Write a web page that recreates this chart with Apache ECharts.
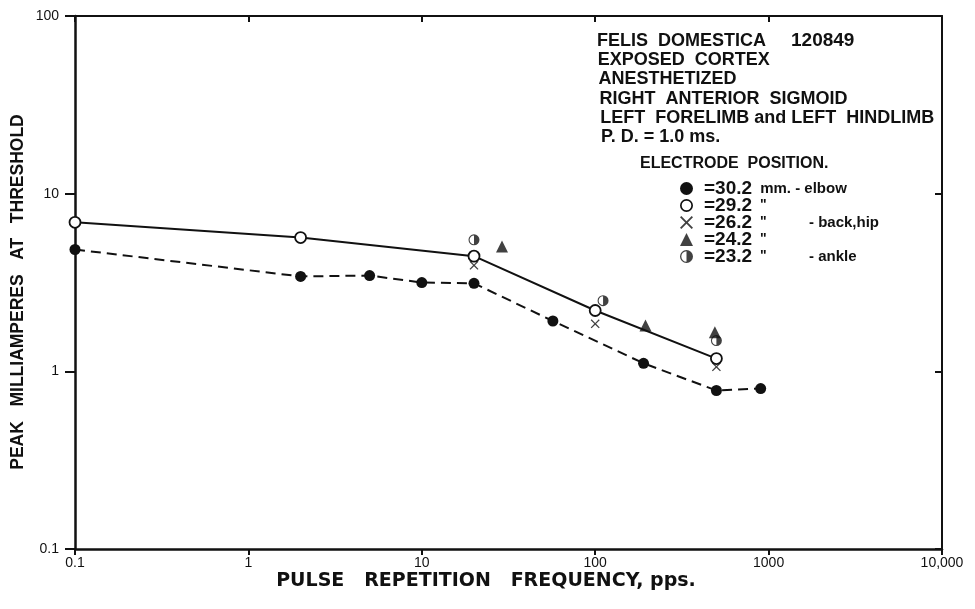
<!DOCTYPE html>
<html><head><meta charset="utf-8">
<script src="https://cdn.jsdelivr.net/npm/echarts/dist/echarts.min.js"></script>
<style>html,body{margin:0;padding:0;background:#fff}#c{width:975px;height:609px}</style>
</head><body><div id="c"></div>
<script>
// Tick labels
const xTickLabels = ['0.1', '1', '10', '100', '1000', '10,000'];
const yTickLabels = ['0.1', '1', '10', '100'];
// Electrode positions: [pulse repetition frequency (pps), peak mA at threshold]
const e302 = [[0.1, 4.85], [2, 3.42], [5, 3.46], [10, 3.16], [20, 3.13], [57, 1.92], [190, 1.11], [500, 0.78], [900, 0.80]];
const e292 = [[0.1, 6.9], [2, 5.66], [20, 4.45], [100, 2.2], [500, 1.18]];
const e262 = [[20, 3.95], [100, 1.85], [500, 1.06]];
const e242 = [[29, 5.05], [195, 1.81], [490, 1.66]];
const e232 = [[20, 5.5], [111, 2.5], [500, 1.49]];
const legendText = {
  '30.2': '{a|=30.2}{b| mm. - elbow}',
  '29.2': '{a|=29.2}{q| "}',
  '26.2': '{a|=26.2}{q| "}{c|- back,hip}',
  '24.2': '{a|=24.2}{q| "}',
  '23.2': '{a|=23.2}{q| "}{c|- ankle}'
};
const noteLines = ['FELIS  DOMESTICA', 'EXPOSED  CORTEX', 'ANESTHETIZED', 'RIGHT  ANTERIOR  SIGMOID', 'LEFT  FORELIMB and LEFT  HINDLIMB', 'P. D. = 1.0 ms.'];
const noteId = '120849';
const xTitle = 'PULSE   REPETITION   FREQUENCY, pps.';
const yTitle = 'PEAK   MILLIAMPERES   AT   THRESHOLD';

const INK = '#111';
const FONT = 'Liberation Sans';
const xSymbol = 'path://M0,2 L2,0 L10,8 L18,0 L20,2 L12,10 L20,18 L18,20 L10,12 L2,20 L0,18 L8,10 Z';
const ringSymbol = 'path://M10,0 A10,10 0 1,1 10,20 A10,10 0 1,1 10,0 Z M10,2.6 A7.4,7.4 0 1,0 10,17.4 A7.4,7.4 0 1,0 10,2.6 Z';
const halfSymbol = 'path://M10,0 A10,10 0 1,1 10,20 A10,10 0 1,1 10,0 Z M10,2 A8,8 0 1,0 10,18 A8,8 0 1,0 10,2 Z M10,2 A8,8 0 0,1 10,18 Z';

function xLab(v) { const i = Math.round(Math.log10(v)) + 1; return xTickLabels[i] || ''; }
function yLab(v) { const i = Math.round(Math.log10(v)) + 1; return yTickLabels[i] || ''; }

const chart = echarts.init(document.getElementById('c'), null, {renderer: 'canvas'});
const graphics = noteLines.map((t, i) => ({
  type: 'text', left: 597 + i * 0.8, top: 32 + i * 19.2,
  style: {text: t, font: 'bold 18px "' + FONT + '"', fill: INK}
}));
graphics.push({type: 'text', left: 791, top: 31, style: {text: noteId, font: 'bold 19px "' + FONT + '"', fill: INK}});
graphics.push({type: 'text', left: 640, top: 156, style: {text: 'ELECTRODE  POSITION.', font: 'bold 16px "' + FONT + '"', fill: INK}});
graphics.push({type: 'text', x: 486, y: 581,
  style: {text: xTitle, font: 'bold 19px "DejaVu Sans"', fill: INK, align: 'center', verticalAlign: 'middle', textAlign: 'center', textVerticalAlign: 'middle'}});
graphics.push({type: 'text', x: 18, y: 292, rotation: Math.PI / 2,
  style: {text: yTitle, font: 'bold 17.5px "' + FONT + '"', fill: INK, align: 'center', verticalAlign: 'middle', textAlign: 'center', textVerticalAlign: 'middle'}});

const rowH = 15;
chart.setOption({
  animation: false,
  backgroundColor: '#fff',
  grid: {left: 75, right: 33, top: 16, bottom: 60, show: false},
  graphic: graphics,
  legend: {
    orient: 'vertical', left: 675, top: 174, itemGap: -2, itemWidth: 13, itemHeight: 13,
    selectedMode: false,
    data: [
      {name: '30.2', icon: 'circle'},
      {name: '29.2', icon: ringSymbol, itemStyle: {color: INK, borderWidth: 0}},
      {name: '26.2', icon: xSymbol},
      {name: '24.2', icon: 'triangle'},
      {name: '23.2', icon: halfSymbol}
    ],
    formatter: n => legendText[n],
    textStyle: {
      color: INK, fontFamily: FONT, lineHeight: rowH,
      rich: {
        a: {fontSize: 19, fontWeight: 'bold', fontFamily: FONT, color: INK, width: 52, lineHeight: rowH, padding: [0, 0, 0, 6]},
        b: {fontSize: 15, fontWeight: 'bold', fontFamily: FONT, color: INK, lineHeight: rowH},
        q: {fontSize: 14, fontWeight: 'bold', fontFamily: FONT, color: INK, width: 53, lineHeight: rowH},
        c: {fontSize: 15, fontWeight: 'bold', fontFamily: FONT, color: INK, lineHeight: rowH}
      }
    }
  },
  xAxis: [{
    type: 'log', logBase: 10, min: 0.1, max: 10000, position: 'bottom',
    axisLine: {onZero: false, lineStyle: {color: INK, width: 2.5}},
    axisTick: {inside: false, length: 6, lineStyle: {color: INK, width: 2}},
    axisLabel: {formatter: xLab, fontFamily: FONT, fontSize: 14, color: INK, margin: 7},
    splitLine: {show: false}, minorTick: {show: false}
  }, {
    type: 'log', logBase: 10, min: 0.1, max: 10000, position: 'top',
    axisLine: {onZero: false, lineStyle: {color: INK, width: 2}},
    axisTick: {inside: true, length: 6, lineStyle: {color: INK, width: 2}},
    axisLabel: {show: false}, splitLine: {show: false}
  }],
  yAxis: [{
    type: 'log', logBase: 10, min: 0.1, max: 100, position: 'left',
    axisLine: {onZero: false, lineStyle: {color: INK, width: 2.5}},
    axisTick: {inside: false, length: 10, lineStyle: {color: INK, width: 2}},
    axisLabel: {formatter: yLab, fontFamily: FONT, fontSize: 14, color: INK, margin: 16},
    splitLine: {show: false}, minorTick: {show: false}
  }, {
    type: 'log', logBase: 10, min: 0.1, max: 100, position: 'right',
    axisLine: {onZero: false, lineStyle: {color: INK, width: 2}},
    axisTick: {inside: true, length: 7, lineStyle: {color: INK, width: 2}},
    axisLabel: {show: false}, splitLine: {show: false}
  }],
  series: [
    {name: '30.2', type: 'line', data: e302, symbol: 'circle', symbolSize: 11, z: 3,
     lineStyle: {color: INK, width: 2, type: [10, 6]}, itemStyle: {color: INK}},
    {name: '29.2', type: 'line', data: e292, symbol: 'circle', symbolSize: 11, z: 4,
     lineStyle: {color: INK, width: 2}, itemStyle: {color: '#fff', borderColor: INK, borderWidth: 1.8}},
    {name: '26.2', type: 'scatter', data: e262, symbol: xSymbol, symbolSize: 9, z: 2,
     itemStyle: {color: INK}},
    {name: '24.2', type: 'scatter', data: e242, symbol: 'triangle', symbolSize: 12, z: 2,
     itemStyle: {color: INK}},
    {name: '23.2', type: 'scatter', data: e232, symbol: halfSymbol, symbolSize: 11, z: 2,
     itemStyle: {color: INK}}
  ]
});
</script></body></html>
